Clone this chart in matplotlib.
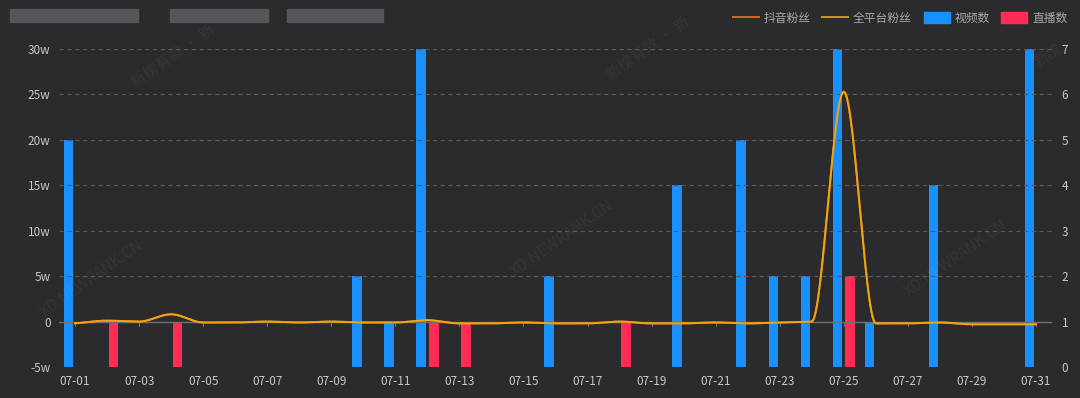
import numpy as np
import matplotlib
matplotlib.use('Agg')
from matplotlib import pyplot as plt
from matplotlib.lines import Line2D
from matplotlib.patches import Patch, Rectangle
from matplotlib.ticker import FuncFormatter

plt.rcParams['font.family'] = ['Noto Sans CJK SC', 'DejaVu Sans']

BG = '#2b2b2e'
TXT = '#c8c8c8'
GRID = '#58585c'
BLUE = '#1890ff'
RED = '#ff2d55'
GOLD = '#f2a50c'
BROWN = '#d2691e'

days = ['07-%02d' % d for d in range(1, 32)]

# fans (unit: w = 10k), left axis
fans_all = [-0.2, 0.1, 0.0, 0.8, -0.1, -0.1, 0.0, -0.1, 0.0, -0.1,
            -0.1, 0.15, -0.2, -0.2, -0.1, -0.2, -0.2, 0.0, -0.2, -0.2,
            -0.1, -0.2, -0.1, 0.0, 25.3, -0.2, -0.2, -0.1, -0.3, -0.3, -0.3]
fans_douyin = fans_all

# counts, right axis
videos = [5, 0, 0, 0, 0, 0, 0, 0, 0, 2,
          1, 7, 0, 0, 0, 2, 0, 0, 0, 4,
          0, 5, 2, 2, 7, 1, 0, 4, 0, 0, 7]
lives = [0, 1, 0, 1, 0, 0, 0, 0, 0, 0,
         0, 1, 1, 0, 0, 0, 0, 1, 0, 0,
         0, 0, 0, 0, 2, 0, 0, 0, 0, 0, 0]


def smooth_curve(y, n=30):
    # monotone cubic hermite through the points (drawing only)
    y = np.asarray(y, float)
    x = np.arange(len(y), dtype=float)
    m = np.diff(y)
    d = np.zeros_like(y)
    for i in range(1, len(y) - 1):
        if m[i - 1] * m[i] > 0:
            d[i] = 2 * m[i - 1] * m[i] / (m[i - 1] + m[i])
    d[0], d[-1] = m[0], m[-1]
    xs, ys = [], []
    for i in range(len(y) - 1):
        t = np.linspace(0, 1, n, endpoint=False)
        h00 = 2 * t**3 - 3 * t**2 + 1
        h10 = t**3 - 2 * t**2 + t
        h01 = -2 * t**3 + 3 * t**2
        h11 = t**3 - t**2
        xs.append(x[i] + t)
        ys.append(h00 * y[i] + h10 * d[i] + h01 * y[i + 1] + h11 * d[i + 1])
    xs.append([x[-1]])
    ys.append([y[-1]])
    return np.concatenate(xs), np.concatenate(ys)


fig = plt.figure(figsize=(10.8, 3.98), dpi=100, facecolor=BG)
ax = fig.add_axes([59 / 1080, 1 - 367 / 398, (1052 - 59) / 1080, (367 - 49) / 398])
ax.set_facecolor(BG)
ax2 = ax.twinx()

x = np.arange(len(days))
w = 0.3
ax2.bar(x - 0.2, videos, width=w, color=BLUE, zorder=2)
ax2.bar(x + 0.2, lives, width=w, color=RED, zorder=2)
ax2.set_ylim(0, 7)
ax2.set_yticks(range(0, 8))

ax.set_ylim(-5, 30)
ax.set_yticks(range(-5, 31, 5))
ax.yaxis.set_major_formatter(FuncFormatter(lambda v, p: '0' if v == 0 else '%dw' % v))
ax.set_xlim(-0.5, len(days) - 0.5)
ax.grid(axis='y', color=GRID, linestyle=(0, (4, 3)), linewidth=0.8)
ax.set_axisbelow(True)
ax.axhline(0, color='#6e6e72', linewidth=1, zorder=1)

# put line axis on top of bars
ax.set_zorder(ax2.get_zorder() + 1)
ax.patch.set_visible(False)
ax2.patch.set_visible(False)

sx, sy = smooth_curve(fans_douyin)
ax.plot(sx, sy, color=BROWN, linewidth=1.4, zorder=3)
sx, sy = smooth_curve(fans_all)
ax.plot(sx, sy, color=GOLD, linewidth=1.4, zorder=4)

ax.set_xticks(x[::2])
ax.set_xticklabels(days[::2])
for a in (ax, ax2):
    for s in a.spines.values():
        s.set_visible(False)
ax.tick_params(axis='x', colors=TXT, length=0, pad=6, labelsize=8.5)
ax.tick_params(axis='y', colors=TXT, length=0, pad=6, labelsize=8.5)
ax2.tick_params(axis='y', colors=TXT, length=0, pad=7, labelsize=8.5)
for i in x[::2]:
    ax.plot([i, i], [0, -0.45], color='#6e6e72', linewidth=0.8, zorder=1)

# watermarks
wm = dict(color='#ffffff', alpha=0.05, fontsize=11, rotation=35, ha='center', va='center')
fig.text(0.085, 0.3, 'XD.NEWRANK.CN', **wm)
fig.text(0.52, 0.4, 'XD.NEWRANK.CN', **wm)
fig.text(0.885, 0.35, 'XD.NEWRANK.CN', **wm)
fig.text(0.16, 0.86, '新榜有数 · 新', **wm)
fig.text(0.6, 0.88, '新榜有数 · 新', **wm)
fig.text(0.97, 0.86, '新榜', **wm)

# blurred title blocks
for x0, x1 in [(10, 138), (170, 268), (287, 383)]:
    fig.patches.append(Rectangle((x0 / 1080, 1 - 22 / 398), (x1 - x0) / 1080, 13 / 398,
                                 transform=fig.transFigure, color='#55555a', zorder=0))

handles = [Line2D([], [], color=BROWN, lw=1.4), Line2D([], [], color='#c89a22', lw=1.4),
           Patch(color=BLUE), Patch(color=RED)]
fig.legend(handles, ['抖音粉丝', '全平台粉丝', '视频数', '直播数'], loc='center right',
           bbox_to_anchor=(1078 / 1080, 1 - 18 / 398), ncol=4, frameon=False,
           fontsize=8.5, labelcolor='#a8a8a8', handlelength=2.2, handleheight=1.1,
           handletextpad=0.4, columnspacing=1.0)

fig.savefig('out.png', dpi=100, facecolor=BG)
